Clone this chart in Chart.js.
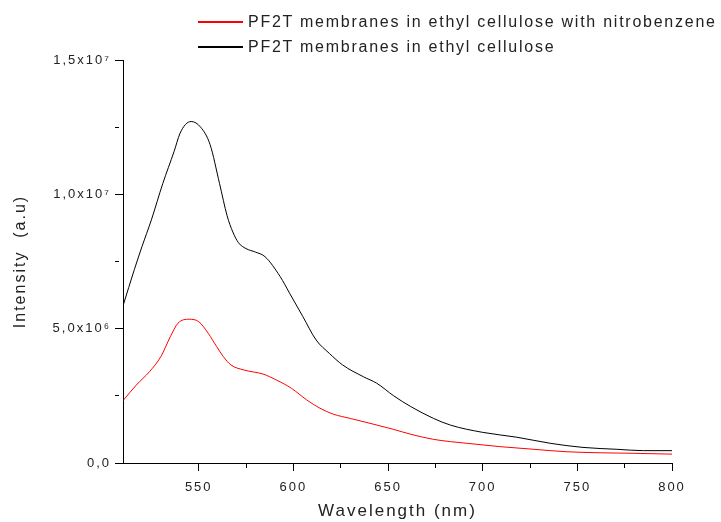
<!DOCTYPE html>
<html lang="en">
<head>
    <meta charset="UTF-8">
    <title>PF2T membranes - emission spectra</title>
    <script src="https://cdn.jsdelivr.net/npm/chart.js"></script>
    <style>
        html, body { margin: 0; padding: 0; background: #fff; overflow: hidden; }
        #wrap { position: relative; width: 721px; height: 522px; }
        #legend { position: absolute; left: 198px; top: 9px; font-family: "Liberation Sans", Arial, sans-serif;
                  font-size: 16px; letter-spacing: 1.75px; color: #222; }
        .item { display: flex; align-items: center; height: 25px; white-space: nowrap; }
        .swatch { width: 45px; height: 2px; margin-right: 5px; }
    </style>
</head>
<body>
    <div id="wrap">
        <canvas id="spectra" width="721" height="522"></canvas>
        <div id="legend"></div>
    </div>

    <script>
        // series (wavelength in nm, intensity in a.u.)
        const seriesLabels = ['PF2T membranes in ethyl cellulose with nitrobenzene', 'PF2T membranes in ethyl cellulose'];
        const seriesColors = ['#ff0000', '#000000'];

        const nitroWavelength = [510, 517, 524, 530, 535, 539, 545, 550, 555, 559.5, 563, 567, 574, 584, 591, 599, 607, 614, 621, 630, 642, 653, 662, 674, 692, 709, 727, 744, 762, 780, 800];
        const nitroIntensity = [2.32e6, 2.90e6, 3.40e6, 3.96e6, 4.70e6, 5.20e6, 5.35e6, 5.26e6, 4.83e6, 4.33e6, 3.96e6, 3.65e6, 3.46e6, 3.31e6, 3.09e6, 2.78e6, 2.35e6, 2.04e6, 1.82e6, 1.66e6, 1.45e6, 1.25e6, 1.07e6, 0.88e6, 0.73e6, 0.61e6, 0.51e6, 0.42e6, 0.38e6, 0.36e6, 0.33e6];

        const plainWavelength = [510, 516, 520, 525, 531, 537, 540, 543, 546, 551, 556, 561, 565, 568, 571, 575, 580, 585, 593, 598, 605, 612, 619, 626, 637, 644, 653, 662, 674, 683, 700, 718, 736, 753, 771, 785, 800];
        const plainIntensity = [5.85e6, 7.2e6, 8.05e6, 9.05e6, 10.4e6, 11.6e6, 12.25e6, 12.6e6, 12.71e6, 12.5e6, 11.85e6, 10.4e6, 9.2e6, 8.6e6, 8.2e6, 7.98e6, 7.85e6, 7.68e6, 6.94e6, 6.32e6, 5.45e6, 4.58e6, 4.08e6, 3.65e6, 3.21e6, 2.97e6, 2.5e6, 2.1e6, 1.66e6, 1.41e6, 1.14e6, 0.96e6, 0.73e6, 0.58e6, 0.51e6, 0.46e6, 0.46e6];

        // axis ticks
        const xTickValues = [550, 600, 650, 700, 750, 800];
        const yTickValues = [0, 5e6, 1e7, 1.5e7];
        const yTickLabels = ['0,0', '5,0x10\u2076', '1,0x10\u2077', '1,5x10\u2077'];

        const toPoints = (xs, ys) => xs.map((x, i) => ({ x: x, y: ys[i] }));

        // html legend, same order as the figure
        const legendEl = document.getElementById('legend');
        seriesLabels.forEach((label, i) => {
            const row = document.createElement('div');
            row.className = 'item';
            row.innerHTML = '<span class="swatch" style="background:' + seriesColors[i] + '"></span><span>' + label + '</span>';
            legendEl.appendChild(row);
        });

        // Origin-style spaced lettering for the canvas text
        const spacingPlugin = {
            id: 'spacing',
            beforeLayout(chart) { chart.ctx.letterSpacing = '2px'; },
            beforeDraw(chart) { chart.ctx.letterSpacing = '2px'; }
        };

        // minor ticks: only the first 4px of the tick line are drawn
        const minorDash = (isMajor) => (ctx) => isMajor(ctx.tick && ctx.tick.value) ? [] : [4, 40];

        Chart.defaults.font.family = '"Liberation Sans", Arial, sans-serif';
        Chart.defaults.color = '#222';

        new Chart(document.getElementById('spectra'), {
            type: 'line',
            data: {
                datasets: [{
                    label: seriesLabels[0],
                    data: toPoints(nitroWavelength, nitroIntensity),
                    borderColor: seriesColors[0],
                    borderWidth: 1,
                    pointRadius: 0,
                    cubicInterpolationMode: 'monotone'
                }, {
                    label: seriesLabels[1],
                    data: toPoints(plainWavelength, plainIntensity),
                    borderColor: seriesColors[1],
                    borderWidth: 1,
                    pointRadius: 0,
                    cubicInterpolationMode: 'monotone'
                }]
            },
            options: {
                responsive: false,
                animation: false,
                layout: { padding: { top: 60, right: 49, left: 0, bottom: 0 } },
                plugins: {
                    legend: { display: false },
                    tooltip: { enabled: false }
                },
                scales: {
                    x: {
                        type: 'linear',
                        min: 510,
                        max: 800,
                        afterBuildTicks: (scale) => {
                            scale.ticks = scale.ticks.filter(t => t.value % 25 === 0);
                        },
                        afterFit: (scale) => { scale.height = 59; },
                        ticks: {
                            stepSize: 25,
                            autoSkip: false,
                            maxRotation: 0,
                            padding: 9,
                            font: { size: 13 },
                            callback: (v) => xTickValues.includes(v) ? String(v) : ''
                        },
                        grid: {
                            drawOnChartArea: false,
                            tickLength: 8,
                            tickColor: '#000',
                            tickBorderDash: minorDash(v => xTickValues.includes(v))
                        },
                        border: { color: '#000', width: 1 },
                        title: {
                            display: true,
                            text: 'Wavelength (nm)',
                            font: { size: 17 },
                            padding: { top: 0, bottom: 0 }
                        }
                    },
                    y: {
                        min: 0,
                        max: 1.5e7,
                        afterFit: (scale) => { scale.width = 123; },
                        ticks: {
                            stepSize: 2.5e6,
                            autoSkip: false,
                            padding: 4,
                            font: { size: 13 },
                            callback: (v) => {
                                const i = yTickValues.indexOf(v);
                                return i >= 0 ? yTickLabels[i] : '';
                            }
                        },
                        grid: {
                            drawOnChartArea: false,
                            tickLength: 8,
                            tickColor: '#000',
                            tickBorderDash: minorDash(v => yTickValues.includes(v))
                        },
                        border: { color: '#000', width: 1 },
                        title: {
                            display: true,
                            text: 'Intensity  (a.u)',
                            font: { size: 16 },
                            padding: { top: 11, bottom: 0 }
                        }
                    }
                }
            },
            plugins: [spacingPlugin]
        });
    </script>
</body>
</html>
